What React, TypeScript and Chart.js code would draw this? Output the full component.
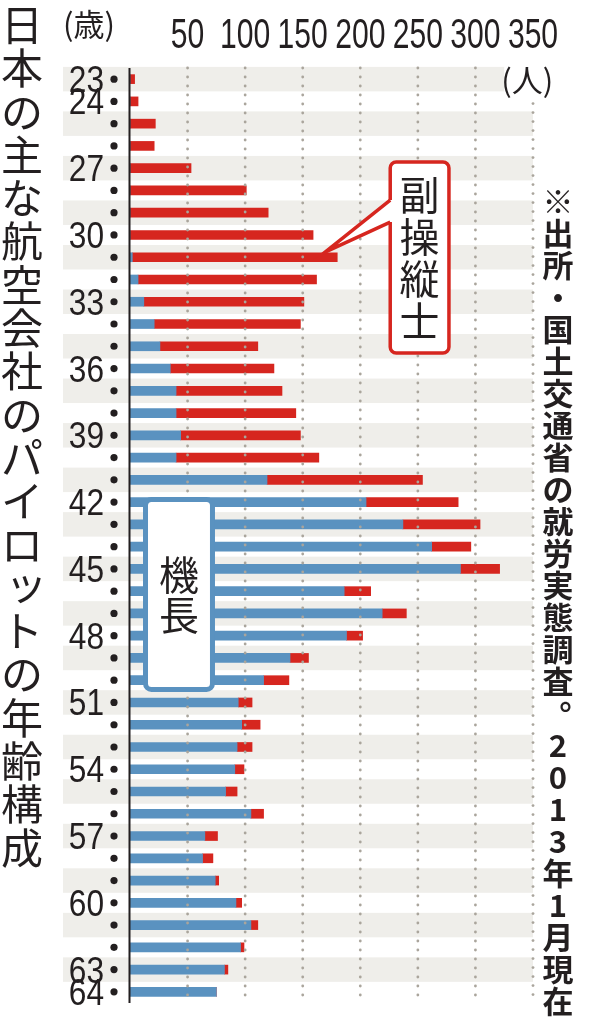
import { useEffect, useRef } from "react";
import { Chart, BarController, BarElement, LinearScale, CategoryScale } from "chart.js";
import type { Plugin } from "chart.js";

Chart.register(BarController, BarElement, LinearScale, CategoryScale);

// 年齢 (歳)
const ages = [
  "23", "24", "25", "26", "27", "28", "29", "30", "31", "32", "33", "34", "35", "36",
  "37", "38", "39", "40", "41", "42", "43", "44", "45", "46", "47", "48", "49", "50",
  "51", "52", "53", "54", "55", "56", "57", "58", "59", "60", "61", "62", "63", "64",
];
// 機長 (人)
const captains = [
  0, 0, 0, 0, 0, 0, 0, 0, 2, 7, 12, 21, 26, 35,
  40, 40, 44, 40, 119, 205, 237, 262, 287, 186, 219, 188, 139, 116,
  94, 97, 93, 91, 83, 105, 65, 63, 74, 92, 105, 96, 82, 75,
];
// 副操縦士 (人)
const firstOfficers = [
  4, 7, 22, 21, 53, 101, 120, 159, 178, 155, 139, 127, 85, 90,
  92, 104, 104, 124, 135, 80, 67, 34, 34, 23, 21, 14, 16, 22,
  12, 16, 13, 8, 10, 11, 11, 9, 3, 5, 6, 3, 3, 0,
];
const xTicks = [50, 100, 150, 200, 250, 300, 350];
const labeledAges = ["23", "24", "27", "30", "33", "36", "39", "42", "45", "48", "51", "54", "57", "60", "63", "64"];

const title = "日本の主な航空会社のパイロットの年齢構成";
const note = "※出所・国土交通省の就労実態調査。2013年1月現在";

const BLUE = "#5a92c0";
const RED = "#d6261f";
const BAND = "#efeeea";
const DOT = "#aaa59c";
const INK = "#231f20";
const JP = '"Noto Sans CJK JP", sans-serif';
const NUM = '"Liberation Sans", Arial, sans-serif';

function drawVertical(ctx: CanvasRenderingContext2D, text: string, cx: number, y0: number, step: number, size: number) {
  ctx.textAlign = "center";
  ctx.textBaseline = "middle";
  Array.from(text).forEach((ch, i) => {
    let dx = 0;
    let dy = 0;
    if (ch === "。") { dx = size * 0.55; dy = -size * 0.5; }
    if (ch === "ッ") { dx = size * 0.1; dy = -size * 0.1; }
    ctx.fillText(ch, cx + dx, y0 + i * step + dy);
  });
}

function roundRect(ctx: CanvasRenderingContext2D, l: number, t: number, r: number, b: number, rad: number) {
  ctx.beginPath();
  ctx.moveTo(l + rad, t);
  ctx.arcTo(r, t, r, b, rad);
  ctx.arcTo(r, b, l, b, rad);
  ctx.arcTo(l, b, l, t, rad);
  ctx.arcTo(l, t, r, t, rad);
  ctx.closePath();
}

function condensed(ctx: CanvasRenderingContext2D, text: string, px: number, py: number, sx: number) {
  ctx.save();
  ctx.translate(px, py);
  ctx.scale(sx, 1);
  ctx.fillText(text, 0, 0);
  ctx.restore();
}

const decorPlugin: Plugin<"bar"> = {
  id: "decor",
  beforeDatasetsDraw(chart) {
    const { ctx } = chart;
    const x = chart.scales.x;
    const y = chart.scales.y;
    ctx.save();
    ctx.fillStyle = BAND;
    ages.forEach((_, i) => {
      if (i % 2) return;
      const top = y.getPixelForValue(i - 0.55);
      const bot = y.getPixelForValue(i + 0.55);
      const right = x.getPixelForValue(i === 0 ? 325 : 350);
      ctx.fillRect(63, top, right - 63, bot - top);
    });
    ctx.restore();
  },
  afterDatasetsDraw(chart) {
    const { ctx, chartArea } = chart;
    const x = chart.scales.x;
    const y = chart.scales.y;
    ctx.save();

    // dotted grid
    ctx.fillStyle = DOT;
    xTicks.forEach((v) => {
      const px = x.getPixelForValue(v);
      const start = v === 350 ? y.getPixelForValue(1.1) : chartArea.top;
      const end = y.getPixelForValue(41.3);
      for (let py = start; py <= end; py += 9) {
        ctx.beginPath();
        ctx.arc(px, py, 1.4, 0, Math.PI * 2);
        ctx.fill();
      }
    });

    // axis line
    ctx.strokeStyle = INK;
    ctx.lineWidth = 2;
    ctx.beginPath();
    const x0 = x.getPixelForValue(0) - 0.5;
    ctx.moveTo(x0, chartArea.top);
    ctx.lineTo(x0, chartArea.bottom);
    ctx.stroke();

    // 副操縦士 callout
    const rl = x.getPixelForValue(226);
    const rr = x.getPixelForValue(277);
    const rt = y.getPixelForValue(3.72);
    const rb = y.getPixelForValue(12.3);
    ctx.fillStyle = "#fff";
    ctx.strokeStyle = RED;
    ctx.lineWidth = 3.5;
    roundRect(ctx, rl, rt, rr, rb, 6);
    ctx.fill();
    ctx.stroke();
    const tipX = x.getPixelForValue(169.4);
    const tipY = y.getPixelForValue(7.77);
    const w1 = y.getPixelForValue(5.43);
    const w2 = y.getPixelForValue(6.42);
    ctx.beginPath();
    ctx.moveTo(rl + 4, w1);
    ctx.lineTo(rl, w1);
    ctx.lineTo(tipX, tipY);
    ctx.lineTo(rl, w2);
    ctx.lineTo(rl + 4, w2);
    ctx.closePath();
    ctx.fill();
    ctx.beginPath();
    ctx.moveTo(rl, w1);
    ctx.lineTo(tipX, tipY);
    ctx.lineTo(rl, w2);
    ctx.lineJoin = "miter";
    ctx.stroke();
    ctx.fillStyle = INK;
    ctx.font = `40px ${JP}`;
    const rMid = (rt + rb) / 2;
    drawVertical(ctx, "副操縦士", (rl + rr) / 2, rMid - 42 * 1.5, 42, 40);

    // 機長 box
    const bl = x.getPixelForValue(11.3);
    const br = x.getPixelForValue(73.8);
    const bt = y.getPixelForValue(18.77);
    const bb = y.getPixelForValue(27.53);
    ctx.fillStyle = "#fff";
    ctx.strokeStyle = BLUE;
    ctx.lineWidth = 5;
    roundRect(ctx, bl + 2.5, bt + 2.5, br - 2.5, bb - 2.5, 6);
    ctx.fill();
    ctx.stroke();
    ctx.fillStyle = INK;
    ctx.font = `40px ${JP}`;
    const bMid = (bt + bb) / 2;
    drawVertical(ctx, "機長", (bl + br) / 2, bMid - 20, 40, 40);

    ctx.restore();
  },
  afterDraw(chart) {
    const { ctx } = chart;
    const x = chart.scales.x;
    const y = chart.scales.y;
    ctx.save();
    ctx.fillStyle = INK;

    // x tick labels on top
    ctx.font = `43px ${NUM}`;
    ctx.textAlign = "center";
    ctx.textBaseline = "alphabetic";
    xTicks.forEach((v) => condensed(ctx, String(v), x.getPixelForValue(v), 48, 0.7));

    // units
    ctx.font = `31px ${JP}`;
    ctx.textAlign = "center";
    ctx.textBaseline = "middle";
    ctx.fillText("(歳)", 89, 24);
    ctx.fillText("(人)", x.getPixelForValue(345), y.getPixelForValue(0.05));

    // age labels and dots
    ctx.font = `36px ${NUM}`;
    ctx.textAlign = "right";
    ctx.textBaseline = "alphabetic";
    ages.forEach((a, i) => {
      const cy = y.getPixelForValue(i);
      if (labeledAges.includes(a)) condensed(ctx, a, 104, cy + 13, 0.88);
      ctx.beginPath();
      ctx.arc(114, cy, 3.6, 0, Math.PI * 2);
      ctx.fill();
    });

    // vertical title
    ctx.font = `42px ${JP}`;
    drawVertical(ctx, title, 22, 25, 43.3, 42);

    // vertical source note
    ctx.font = `bold 31px ${JP}`;
    drawVertical(ctx, note, 558, 201, 32, 31);

    ctx.restore();
  },
};

export default function App() {
  const canvasRef = useRef<HTMLCanvasElement>(null);

  useEffect(() => {
    document.body.style.margin = "0";
    if (!canvasRef.current) return;
    const chart = new Chart(canvasRef.current, {
      type: "bar",
      data: {
        labels: ages,
        datasets: [
          { label: "機長", data: captains, backgroundColor: BLUE, barThickness: 9, borderWidth: 0 },
          { label: "副操縦士", data: firstOfficers, backgroundColor: RED, barThickness: 9, borderWidth: 0 },
        ],
      },
      options: {
        indexAxis: "y",
        responsive: false,
        animation: false,
        layout: { padding: { left: 130, right: 58, top: 68, bottom: 21 } },
        scales: {
          x: { type: "linear", min: 0, max: 350, stacked: true, display: false },
          y: { type: "category", stacked: true, display: false },
        },
        plugins: { legend: { display: false }, tooltip: { enabled: false } },
      },
      plugins: [decorPlugin],
    });
    return () => { chart.destroy(); };
  }, []);

  return (
    <canvas
      ref={canvasRef}
      width={591}
      height={1024}
      style={{ display: "block", width: 591, height: 1024, background: "#fff" }}
    />
  );
}
